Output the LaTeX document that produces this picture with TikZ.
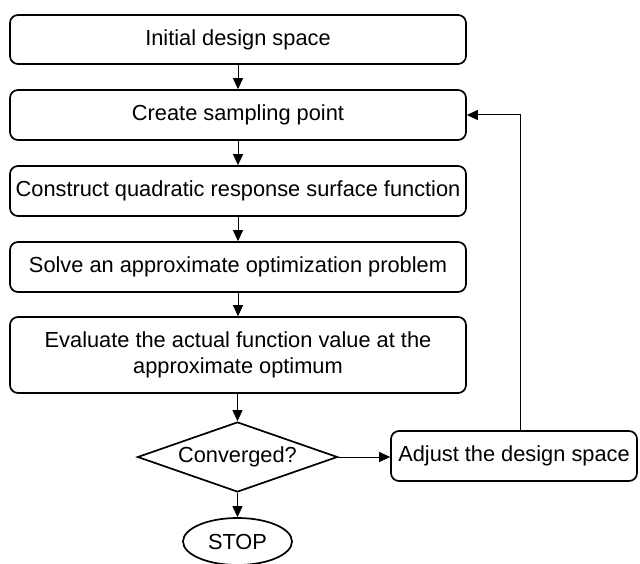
\documentclass[tikz,border=0pt]{standalone}
\usepackage{fontspec}
\setmainfont{Liberation Sans}
\usetikzlibrary{shapes.geometric,arrows.meta}
\begin{document}
\begin{tikzpicture}[x=1pt,y=-1pt,
  every node/.style={font=\fontsize{21.8}{26.5}\selectfont, align=center},
  procbox/.style={draw, line width=1.7pt, rounded corners=8pt, inner sep=0pt},
  decision/.style={draw, line width=1.7pt, diamond, shape aspect=2.86, inner sep=0pt, minimum width=200pt, minimum height=70pt},
  terminal/.style={draw, line width=1.7pt, ellipse, inner sep=0pt, minimum width=109pt, minimum height=47pt},
  arr/.style={line width=1pt, -{Triangle[length=11pt,width=10pt]}}]
\useasboundingbox (0,0) rectangle (640,564);
\node[procbox, minimum width=456pt, minimum height=49pt] (b1) at (238,39.5) {Initial design space};
\node[procbox, minimum width=456pt, minimum height=50pt] (b2) at (238,115) {Create sampling point};
\node[procbox, minimum width=456pt, minimum height=50pt] (b3) at (238,191) {Construct quadratic response surface function};
\node[procbox, minimum width=456pt, minimum height=50pt] (b4) at (238,267) {Solve an approximate optimization problem};
\node[procbox, minimum width=456pt, minimum height=76pt] (b5) at (238,355) {Evaluate the actual function value at the\\approximate optimum};
\node[decision] (dec) at (237.5,457) {Converged?};
\node[procbox, minimum width=246pt, minimum height=50pt] (adj) at (514,456) {Adjust the design space};
\node[terminal] (stop) at (237.5,541.5) {STOP};
\coordinate (fb) at (520,0);
\draw[arr] (b1) -- (b2);
\draw[arr] (b2) -- (b3);
\draw[arr] (b3) -- (b4);
\draw[arr] (b4) -- (b5);
\draw[arr] (b5.south -| dec.north) -- (dec.north);
\draw[arr] (dec.east) -- (adj.west |- dec.east);
\draw[arr] (dec.south) -- (stop.north);
\draw[arr] (adj.north -| fb) |- (b2.east);
\end{tikzpicture}
\end{document}
